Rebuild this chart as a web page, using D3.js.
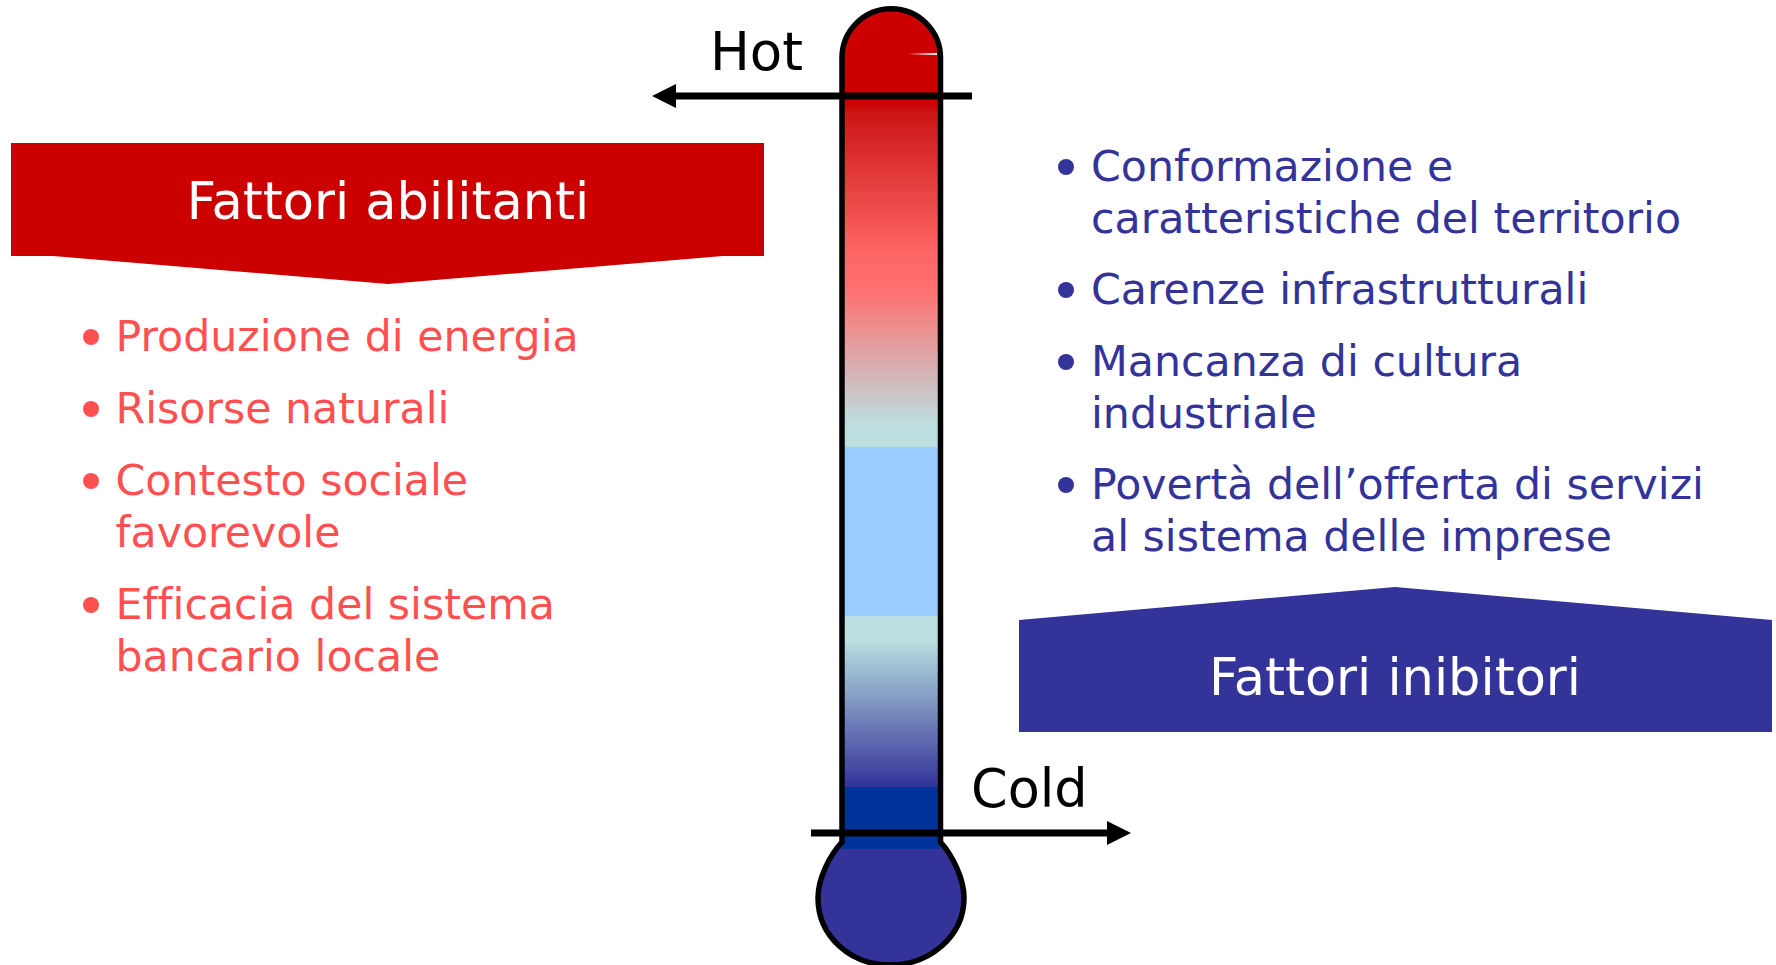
<!DOCTYPE html>
<html lang="it">
<head>
<meta charset="utf-8">
<title>Fattori abilitanti e inibitori</title>
<script src="https://d3js.org/d3.v7.min.js"></script>
<style>
    html, body { margin: 0; padding: 0; background: #fff; }
    svg { display: block; }
    text { font-family: "DejaVu Sans", sans-serif; font-variant-ligatures: none; }
</style>
</head>
<body>
<script>
    // text content
    const leftTitle = "Fattori abilitanti";
    const rightTitle = "Fattori inibitori";
    const leftItems = [
        ["Produzione di energia"],
        ["Risorse naturali"],
        ["Contesto sociale", "favorevole"],
        ["Efficacia del sistema", "bancario locale"]
    ];
    const rightItems = [
        ["Conformazione e", "caratteristiche del territorio"],
        ["Carenze infrastrutturali"],
        ["Mancanza di cultura", "industriale"],
        ["Povertà dell’offerta di servizi", "al sistema delle imprese"]
    ];
    // first baseline of each bullet
    const leftBaselines = [351, 423, 495, 619];
    const rightBaselines = [181, 304, 376, 499];

    // thermometer colour bands: y position in the tube, colour
    const stopY = [103, 112, 255, 290, 425, 447, 447, 616, 616, 640, 787, 787, 849];
    const stopColor = ["#cc0000", "#cc1515", "#ff6666", "#ff7070", "#bcdee0", "#bcdee0", "#99ccff", "#99ccff", "#bcdee0", "#b9dfe0", "#333399", "#003399", "#003399"];

    const width = 1776, height = 965;
    const svg = d3.select("body").append("svg").attr("width", width).attr("height", height);
    const defs = svg.append("defs");

    const y = d3.scaleLinear().domain([9, 849]).range([0, 1]);
    const grad = defs.append("linearGradient").attr("id", "tube")
        .attr("gradientUnits", "userSpaceOnUse")
        .attr("x1", 0).attr("x2", 0).attr("y1", 9).attr("y2", 849);
    grad.selectAll("stop").data(stopY).join("stop")
        .attr("offset", d => y(d))
        .attr("stop-color", (d, i) => stopColor[i]);

    // banners
    svg.append("path").attr("fill", "#cc0000")
        .attr("d", "M11,143H764V256H723L388,284L53,256H11Z");
    svg.append("path").attr("fill", "#333399")
        .attr("d", "M1019,732V620L1395,587L1772,620V732Z");
    const title = (t, x, yy) => svg.append("text").text(t)
        .attr("x", x).attr("y", yy).attr("text-anchor", "middle")
        .attr("font-size", 51).attr("fill", "#fff");
    title(leftTitle, 388, 219);
    title(rightTitle, 1395, 695);

    // bullet lists
    function list(items, baselines, xBullet, xText, color) {
        const g = svg.append("g").attr("fill", color);
        items.forEach((lines, i) => {
            g.append("circle").attr("cx", xBullet).attr("cy", baselines[i] - 14).attr("r", 8);
            lines.forEach((l, k) => {
                g.append("text").text(l).attr("x", xText)
                    .attr("y", baselines[i] + k * 51.5).attr("font-size", 42.7);
            });
        });
    }
    list(leftItems, leftBaselines, 91, 115.5, "#ff5050");
    list(rightItems, rightBaselines, 1066, 1091, "#333399");

    // thermometer
    const outline = "M842,842V58A49,49 0 0 1 940.5,58V842C952,855 964,878 964,898C964,936 930,965 890,965C850,965 818,936 818,898C818,878 830,855 842,842Z";
    svg.append("path").attr("d", outline).attr("fill", "#333399");
    svg.append("path").attr("d", "M842,849V58A49,49 0 0 1 940.5,58V849Z").attr("fill", "url(#tube)");
    svg.append("path").attr("d", outline).attr("fill", "none").attr("stroke", "#000").attr("stroke-width", 5.5);
    // small highlight near the top of the tube
    svg.append("path").attr("d", "M908,54L937,53V55Z").attr("fill", "#fff");

    // hot / cold arrows
    svg.append("line").attr("x1", 672).attr("x2", 972).attr("y1", 96).attr("y2", 96).attr("stroke", "#000").attr("stroke-width", 7);
    svg.append("path").attr("d", "M652,96L676,84V108Z");
    svg.append("line").attr("x1", 811).attr("x2", 1110).attr("y1", 833).attr("y2", 833).attr("stroke", "#000").attr("stroke-width", 7);
    svg.append("path").attr("d", "M1131,833L1107,821V845Z");

    svg.append("text").text("Hot").attr("x", 710).attr("y", 70).attr("font-size", 53);
    svg.append("text").text("Cold").attr("x", 971).attr("y", 807).attr("font-size", 52.5);
</script>
</body>
</html>
